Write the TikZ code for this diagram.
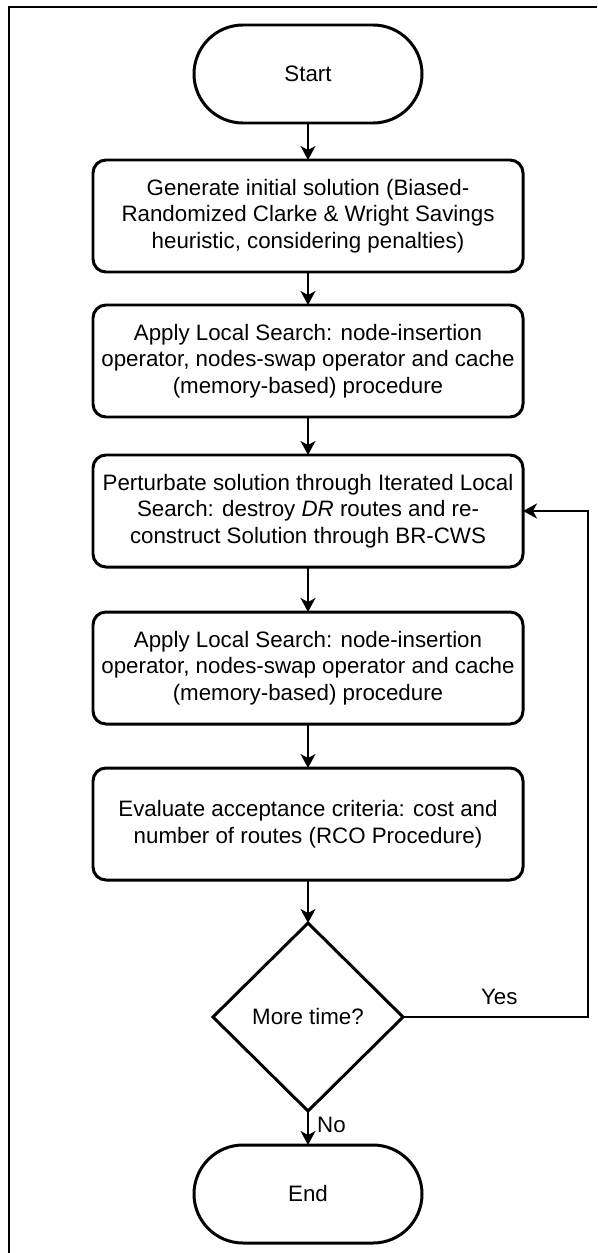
\documentclass[tikz,border=0pt]{standalone}
\usepackage{fontspec}
\setmainfont{Liberation Sans}
\usetikzlibrary{positioning, shapes.geometric, shapes.misc, arrows.meta, calc}

\begin{document}
\begin{tikzpicture}[node distance=0.8cm, auto,
  font=\fontsize{12.7pt}{15.2pt}\selectfont,
  box/.style={draw, rounded corners=0.26cm, line width=1.7pt, minimum width=8.6cm, minimum height=2.24cm, align=center, inner sep=0pt, outer sep=0pt},
  term/.style={draw, rounded rectangle, line width=1.7pt, minimum width=4.56cm, minimum height=1.96cm, inner sep=0pt, outer sep=0pt},
  decision/.style={draw, diamond, aspect=1, line width=1.7pt, minimum width=3.8cm, minimum height=3.76cm, inner sep=0pt, outer sep=0pt},
  flow/.style={draw, line width=0.9pt, -{Stealth[length=0.28cm, width=0.3cm, inset=0.08cm]}}]
  \useasboundingbox (0,0) rectangle (11.94,-25.06);
  % frame (only top and left edges lie inside the picture)
  \draw[line width=1.1pt] (0.18,-25.06) -- (0.18,-0.14) -- (11.94,-0.14);

  \node[term] (start) at (6.16,-1.48) {Start};
  \node[box] (gen) [below=0.74cm of start] {Generate initial solution (Biased-\\Randomized Clarke \& Wright Savings\\heuristic, considering penalties)};
  \node[box] (ls1) [below=0.66cm of gen] {Apply Local Search: node-insertion\\operator, nodes-swap operator and cache\\(memory-based) procedure};
  \node[box] (pert) [below=0.76cm of ls1] {Perturbate solution through Iterated Local\\Search: destroy \textit{DR} routes and re-\\construct Solution through BR-CWS};
  \node[box] (ls2) [below=0.9cm of pert] {Apply Local Search: node-insertion\\operator, nodes-swap operator and cache\\(memory-based) procedure};
  \node[box] (eval) [below=0.88cm of ls2] {Evaluate acceptance criteria: cost and\\number of routes (RCO Procedure)};
  \node[decision] (more) [below=0.86cm of eval] {More time?};
  \node[term] (stop) [below=0.68cm of more] {End};

  \coordinate (back) at (11.76,0);
  \draw[flow] (start) -- (gen);
  \draw[flow] (gen) -- (ls1);
  \draw[flow] (ls1) -- (pert);
  \draw[flow] (pert) -- (ls2);
  \draw[flow] (ls2) -- (eval);
  \draw[flow] (eval) -- (more);
  \draw[flow] (more) -- node[right=0.05cm, pos=0.4] {No} (stop);
  \draw[flow] (more.east) -- node[above=0.12cm, pos=0.52] {Yes} (more.east -| back) -- (pert.east -| back) -- (pert.east);
\end{tikzpicture}
\end{document}
